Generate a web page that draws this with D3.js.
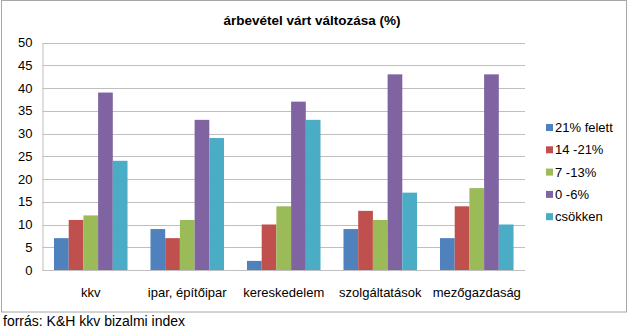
<!DOCTYPE html>
<html><head><meta charset="utf-8">
<script src="https://cdn.jsdelivr.net/npm/d3@7"></script>
<style>body{margin:0;background:#fff}svg{display:block;font-family:"Liberation Sans",Arial,sans-serif}</style>
</head><body>
<svg id="c" width="628" height="329"></svg>
<script>
const categories = ["kkv", "ipar, építőipar", "kereskedelem", "szolgáltatások", "mezőgazdaság"];
const seriesNames = ["21% felett", "14 -21%", "7 -13%", "0 -6%", "csökken"];
const seriesColors = ["#4F81BD", "#C0504D", "#9BBB59", "#8064A2", "#4BACC6"];
const v21felett = [7, 9, 2, 9, 7];
const v14_21 = [11, 7, 10, 13, 14];
const v7_13 = [12, 11, 14, 11, 18];
const v0_6 = [39, 33, 37, 43, 43];
const vCsokken = [24, 29, 33, 17, 10];
const yTicks = [0, 5, 10, 15, 20, 25, 30, 35, 40, 45, 50];
const chartTitle = "árbevétel várt változása (%)";
const sourceText = "forrás: K&H kkv bizalmi index";

(function () {
const seriesValues = [v21felett, v14_21, v7_13, v0_6, vCsokken];
const svg = d3.select("#c");

svg.append("rect").attr("x", 1.5).attr("y", 0.5).attr("width", 625).attr("height", 311.5)
  .attr("fill", "#fff").attr("stroke", "#A6A6A6").attr("stroke-width", 1);

const pL = 42.5, pR = 525, pT = 42.5, pB = 270;
const x = d3.scaleBand().domain(categories).range([pL, pR]).paddingInner(0.238).paddingOuter(0.119);
const xs = d3.scaleBand().domain(seriesNames).range([0, x.bandwidth()]);
const y = d3.scaleLinear().domain([0, 50]).range([pB, pT]);

svg.append("g").selectAll("line").data(yTicks.filter(t => t > 0)).join("line")
  .attr("x1", pL).attr("x2", pR)
  .attr("y1", d => Math.round(y(d)) + 0.5).attr("y2", d => Math.round(y(d)) + 0.5)
  .attr("stroke", "#BFBFBF").attr("stroke-width", 1);

const g = svg.append("g");
categories.forEach((c, i) => {
  seriesNames.forEach((s, j) => {
    const val = seriesValues[j][i];
    g.append("rect")
      .attr("x", x(c) + xs(s))
      .attr("y", y(val))
      .attr("width", xs.bandwidth())
      .attr("height", y(0) - y(val))
      .attr("fill", seriesColors[j]);
  });
});

const yAxis = svg.append("g").attr("transform", `translate(${pL},0)`)
  .call(d3.axisLeft(y).tickValues(yTicks).tickSize(0).tickPadding(10));
yAxis.select(".domain").attr("stroke", "#BFBFBF");
yAxis.selectAll("text").attr("font-size", 13).attr("fill", "#000").attr("font-family", "Liberation Sans, Arial, sans-serif");

const xAxis = svg.append("g").attr("transform", `translate(0,${Math.round(pB) + 0.5})`)
  .call(d3.axisBottom(x).tickSize(0).tickPadding(17));
xAxis.select(".domain").attr("stroke", "#BFBFBF").attr("d", `M${pL},0H${pR}`);
xAxis.selectAll("text").attr("font-size", 13).attr("fill", "#000").attr("font-family", "Liberation Sans, Arial, sans-serif");

svg.append("text").attr("x", 312).attr("y", 24.5).attr("text-anchor", "middle")
  .attr("font-size", 13.5).attr("font-weight", "bold").text(chartTitle);

const lg = svg.append("g").attr("transform", "translate(546,127.5)");
seriesNames.forEach((s, j) => {
  const row = lg.append("g").attr("transform", `translate(0,${j * 22.3})`);
  row.append("rect").attr("x", 0).attr("y", -3.5).attr("width", 7).attr("height", 7).attr("fill", seriesColors[j]);
  row.append("text").attr("x", 9).attr("y", 0).attr("dy", "0.35em").attr("font-size", 13).text(s);
});

svg.append("text").attr("x", 3).attr("y", 326).attr("font-size", 14).text(sourceText);
})();
</script>
</body></html>
